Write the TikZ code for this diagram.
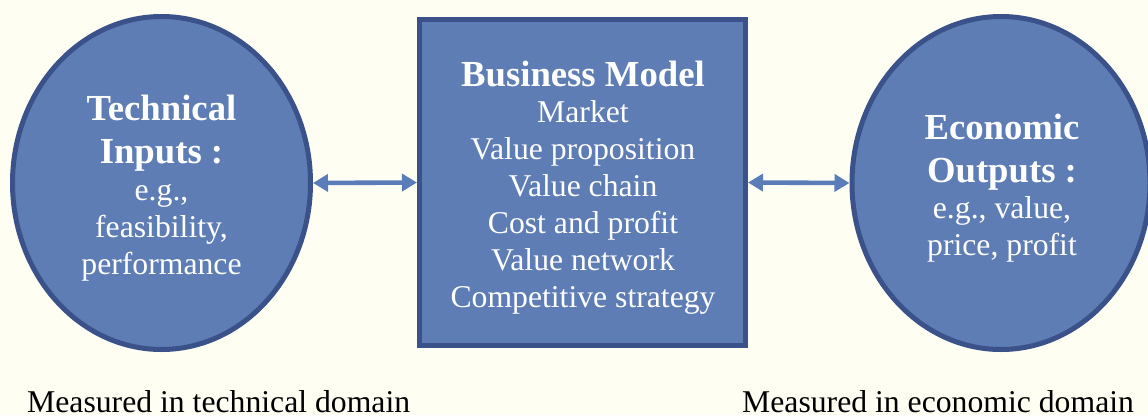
\documentclass[tikz,border=0pt]{standalone}
\usepackage{fontspec}
\setmainfont{Liberation Serif}
\usetikzlibrary{shapes.geometric,arrows.meta}
\definecolor{bgcream}{HTML}{FFFEF3}
\definecolor{bfill}{HTML}{5E7DB5}
\definecolor{bborder}{HTML}{3A5289}
\definecolor{barrow}{HTML}{5A7DBA}
\tikzset{
  oval/.style={ellipse, draw=bborder, fill=bfill, line width=5pt, inner sep=0pt,
    minimum width=298pt, minimum height=333pt},
  bmbox/.style={rectangle, draw=bborder, fill=bfill, line width=5pt, inner sep=0pt,
    minimum width=326pt, minimum height=326pt},
  ttl/.style={text=white, align=center, anchor=base, inner sep=0pt,
    font=\bfseries\fontsize{36.7pt}{43pt}\selectfont},
  body/.style={text=white, align=center, anchor=base, inner sep=0pt,
    font=\fontsize{31.7pt}{37pt}\selectfont},
  caption/.style={text=black, anchor=base west, inner sep=0pt,
    font=\fontsize{31.7pt}{37pt}\selectfont},
  link/.style={draw=barrow, line width=4.6pt,
    {Triangle[length=15pt,width=17pt]}-{Triangle[length=15pt,width=17pt]}}
}
\begin{document}
\begin{tikzpicture}[x=1pt,y=-1pt]
\fill[bgcream] (0,0) rectangle (1148,415);
\useasboundingbox (0,0) rectangle (1148,415);
\node[oval] (tech) at (161.5,183) {};
\node[bmbox] (bm) at (582.5,182.5) {};
\node[oval] (econ) at (1001,183) {};
\node[ttl] (techt) at (161.5,163) {Technical\\Inputs :};
\node[body] (techb) at (161.5,274) {e.g.,\\feasibility,\\performance};
\node[ttl] (bmt) at (583,86) {Business Model};
\node[body] (bmb) at (583,307) {Market\\Value proposition\\Value chain\\Cost and profit\\Value network\\Competitive strategy};
\node[ttl] (econt) at (1002,182) {Economic\\Outputs :};
\node[body] (econb) at (1002,255) {e.g., value,\\price, profit};
\node[caption] (capl) at (27,412) {Measured in technical domain};
\node[caption] (capr) at (742,412) {Measured in economic domain};
\draw[link] (tech.east) -- (bm.west);
\draw[link] (bm.east) -- (econ.west);
\end{tikzpicture}
\end{document}
